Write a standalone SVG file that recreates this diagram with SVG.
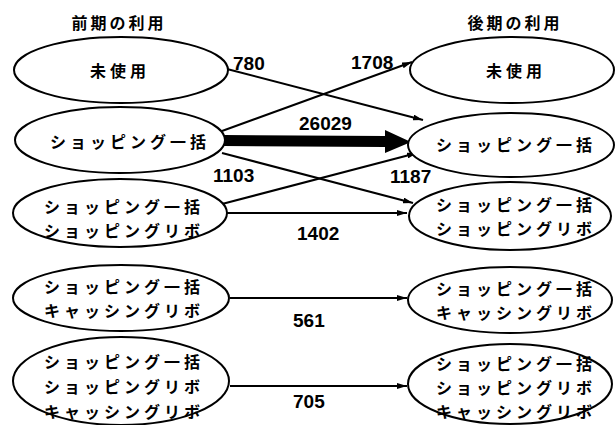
<svg xmlns="http://www.w3.org/2000/svg" width="615" height="425" viewBox="0 0 615 425">
<style>
.n ellipse{fill:#fff;stroke:#000;stroke-width:2}
.t{font-family:"Noto Sans CJK JP","Noto Sans",sans-serif;font-weight:bold;font-size:16px;letter-spacing:4px;text-anchor:middle;dominant-baseline:central;fill:#000}
.h{font-family:"Noto Sans CJK JP","Noto Sans",sans-serif;font-weight:bold;font-size:16px;letter-spacing:3px;text-anchor:middle;dominant-baseline:central;fill:#000}
.num{font-family:"Liberation Sans",Arial,sans-serif;font-weight:bold;font-size:19px;fill:#000}
.e line{stroke:#000;stroke-width:2;fill:none}
</style>
<defs>
<marker id="ah" viewBox="0 0 10 6" refX="10" refY="3" markerWidth="10" markerHeight="6" markerUnits="userSpaceOnUse" orient="auto">
<path d="M0,0 L10,3 L0,6 Z" fill="#000"/>
</marker>
</defs>
<rect width="615" height="425" fill="#fff"/>
<text class="h" x="119" y="22">前期の利用</text>
<text class="h" x="515" y="22">後期の利用</text>
<g class="e" id="connectors">
<line x1="227" y1="69" x2="423" y2="120" marker-end="url(#ah)"/>
<line x1="222" y1="131" x2="412" y2="62" marker-end="url(#ah)"/>
<line x1="222" y1="153" x2="413" y2="203" marker-end="url(#ah)"/>
<line x1="222" y1="204" x2="417" y2="153" marker-end="url(#ah)"/>
<line x1="227" y1="213" x2="407" y2="213" marker-end="url(#ah)"/>
<line x1="230" y1="298" x2="407" y2="298" marker-end="url(#ah)"/>
<line x1="230" y1="386" x2="407" y2="386" marker-end="url(#ah)"/>
<path d="M223,135 L385,136 L385,130 L411,142 L385,153 L385,147 L223,146 Z" fill="#000"/>
<text class="num" x="233" y="70">780</text>
<text class="num" x="351" y="69">1708</text>
<text class="num" x="299" y="130">26029</text>
<text class="num" x="213" y="182">1103</text>
<text class="num" x="390" y="183">1187</text>
<text class="num" x="297" y="240">1402</text>
<text class="num" x="293" y="327">561</text>
<text class="num" x="293" y="408">705</text>
</g>
<g class="n" id="L1"><ellipse cx="121" cy="70" rx="107" ry="33"/><text class="t" x="120" y="70">未使用</text></g>
<g class="n" id="L2"><ellipse cx="120" cy="140" rx="105" ry="33"/><text class="t" x="130" y="141">ショッピング一括</text></g>
<g class="n" id="L3"><ellipse cx="120" cy="213" rx="107" ry="34"/><text class="t" x="124" y="206">ショッピング一括</text><text class="t" x="124" y="230">ショッピングリボ</text></g>
<g class="n" id="L4"><ellipse cx="121" cy="298" rx="108" ry="33"/><text class="t" x="124" y="286">ショッピング一括</text><text class="t" x="124" y="310">キャッシングリボ</text></g>
<g class="n" id="L5"><ellipse cx="121" cy="381" rx="108" ry="44"/><text class="t" x="124" y="361">ショッピング一括</text><text class="t" x="124" y="386">ショッピングリボ</text><text class="t" x="124" y="411">キャッシングリボ</text></g>
<g class="n" id="R1"><ellipse cx="512" cy="70" rx="102" ry="33"/><text class="t" x="516" y="70">未使用</text></g>
<g class="n" id="R2"><ellipse cx="511" cy="145" rx="103" ry="32"/><text class="t" x="516" y="144">ショッピング一括</text></g>
<g class="n" id="R3"><ellipse cx="510" cy="216" rx="101" ry="34"/><text class="t" x="516" y="204">ショッピング一括</text><text class="t" x="516" y="228">ショッピングリボ</text></g>
<g class="n" id="R4"><ellipse cx="510" cy="300" rx="102" ry="33"/><text class="t" x="516" y="288">ショッピング一括</text><text class="t" x="516" y="312">キャッシングリボ</text></g>
<g class="n" id="R5"><ellipse cx="510" cy="384" rx="102" ry="40"/><text class="t" x="516" y="363">ショッピング一括</text><text class="t" x="516" y="387">ショッピングリボ</text><text class="t" x="516" y="411">キャッシングリボ</text></g>
</svg>
